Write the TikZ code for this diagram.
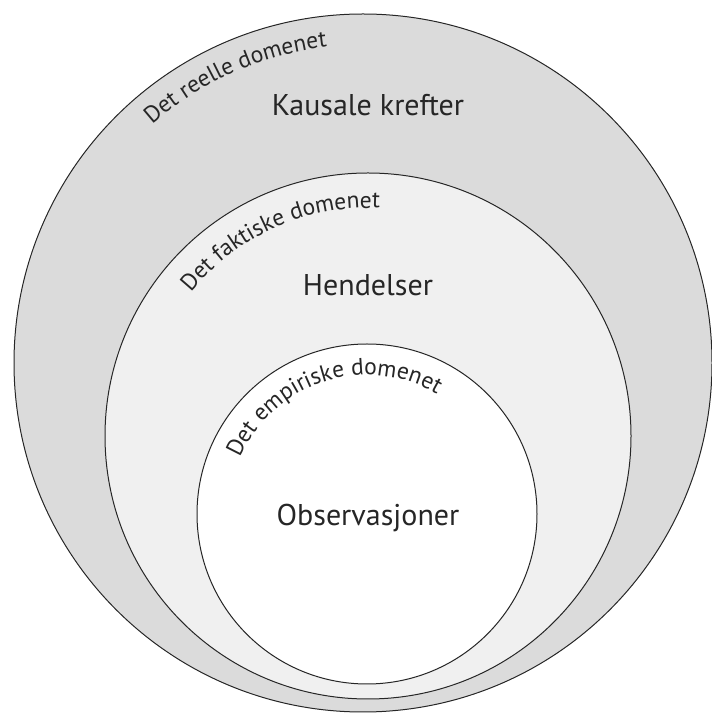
\documentclass[tikz,border=0pt]{standalone}
\usepackage{fontspec}
\setmainfont{PT Sans}
\usetikzlibrary{decorations.text}
\newcommand{\ReellR}{349}
\newcommand{\FaktiskR}{263}
\newcommand{\EmpiriskR}{170}
\newcommand{\MainFont}{\fontsize{30}{36}\selectfont}
\newcommand{\ArcFont}{\fontsize{23.5}{28}\selectfont}
\colorlet{ReellColor}{black!14}
\colorlet{FaktiskColor}{black!6}
\colorlet{EmpiriskColor}{white}

\begin{document}
\begin{tikzpicture}[x=1pt, y=1pt,
	ring/.style={circle, draw=black!85, line width=1pt, inner sep=0pt, outer sep=0pt},
	maintext/.style={font=\MainFont, text=black!85, inner sep=0pt}]
	\useasboundingbox (0,0) rectangle (712,715);

	% the three domains
	\node[ring, fill=ReellColor, minimum size=2*\ReellR pt] (reell) at (363,352) {};
	\node[ring, fill=FaktiskColor, minimum size=2*\FaktiskR pt] (faktisk) at (368,279) {};
	\node[ring, fill=EmpiriskColor, minimum size=2*\EmpiriskR pt] (empirisk) at (367,201) {};

	% names along the rims
	\path[decorate, decoration={text along path, text align=center,
		text={|\ArcFont\color{black!85}|Det reelle domenet}}]
		([shift={(150:318pt)}]reell.center) arc[start angle=150, end angle=78, radius=318pt];
	\path[decorate, decoration={text along path, text align=center,
		text={|\ArcFont\color{black!85}|Det faktiske domenet}}]
		([shift={(160:228pt)}]faktisk.center) arc[start angle=160, end angle=68, radius=228pt];
	\path[decorate, decoration={text along path, text align=center,
		text={|\ArcFont\color{black!85}|Det empiriske domenet}}]
		([shift={(175:139pt)}]empirisk.center) arc[start angle=175, end angle=41, radius=139pt];

	% contents
	\node[maintext] (krefter) at (368,610) {Kausale krefter};
	\node[maintext] (hendelser) at (368,430) {Hendelser};
	\node[maintext] (observasjoner) at (368,197) {Observasjoner};
\end{tikzpicture}
\end{document}
